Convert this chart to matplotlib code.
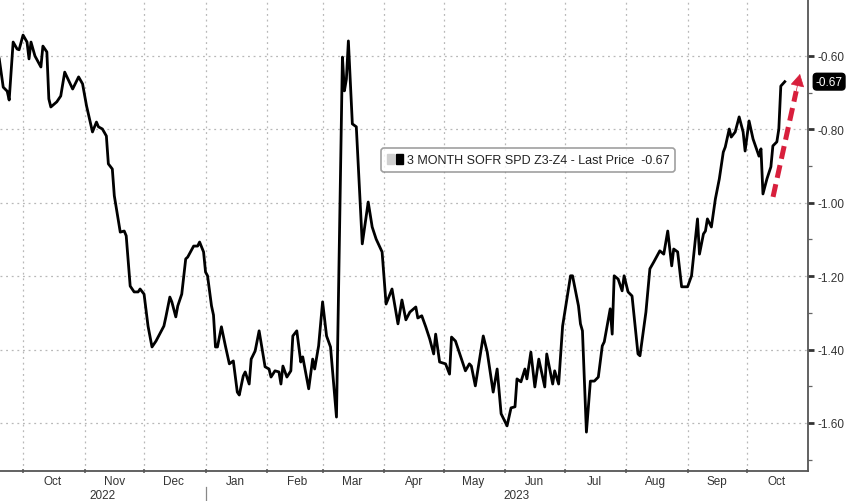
import matplotlib
matplotlib.use("Agg")
import matplotlib.pyplot as plt
import matplotlib.dates as mdates
from matplotlib.patches import Patch
from matplotlib.legend_handler import HandlerTuple
import pandas as pd

plt.rcParams['font.family'] = ['Liberation Sans', 'DejaVu Sans']

# ---------------- data ----------------
dates = [
    # Sep/Oct 2022
    "2022-09-19", "2022-09-21", "2022-09-23", "2022-09-24", "2022-09-26", "2022-09-28", "2022-09-29",
    "2022-10-01", "2022-10-03", "2022-10-04", "2022-10-05", "2022-10-07", "2022-10-10", "2022-10-11",
    "2022-10-13", "2022-10-14", "2022-10-15", "2022-10-18", "2022-10-20", "2022-10-22", "2022-10-26",
    "2022-10-29", "2022-10-31",
    # Nov 2022
    "2022-11-02", "2022-11-05", "2022-11-07", "2022-11-08", "2022-11-10", "2022-11-12", "2022-11-13",
    "2022-11-15", "2022-11-16", "2022-11-19", "2022-11-21", "2022-11-22", "2022-11-24", "2022-11-26",
    "2022-11-28", "2022-11-29",
    # Dec 2022
    "2022-12-01", "2022-12-03", "2022-12-05", "2022-12-07", "2022-12-11", "2022-12-12", "2022-12-14",
    "2022-12-15", "2022-12-17", "2022-12-18", "2022-12-20", "2022-12-22", "2022-12-23", "2022-12-26",
    "2022-12-28", "2022-12-29", "2022-12-31",
    # Jan 2023
    "2023-01-01", "2023-01-02", "2023-01-04", "2023-01-05", "2023-01-06", "2023-01-07", "2023-01-09",
    "2023-01-11", "2023-01-13", "2023-01-15", "2023-01-17", "2023-01-18", "2023-01-20", "2023-01-21",
    "2023-01-23", "2023-01-24", "2023-01-26", "2023-01-28", "2023-01-31",
    # Feb 2023
    "2023-02-02", "2023-02-03", "2023-02-05", "2023-02-07", "2023-02-08", "2023-02-09", "2023-02-11",
    "2023-02-13", "2023-02-14", "2023-02-16", "2023-02-18", "2023-02-19", "2023-02-22", "2023-02-24",
    "2023-02-25", "2023-02-27",
    # Mar 2023
    "2023-03-01", "2023-03-03", "2023-03-05", "2023-03-08", "2023-03-11", "2023-03-12", "2023-03-13",
    "2023-03-14", "2023-03-16", "2023-03-18", "2023-03-21", "2023-03-24", "2023-03-26", "2023-03-28",
    "2023-03-31",
    # Apr 2023
    "2023-04-02", "2023-04-05", "2023-04-08", "2023-04-10", "2023-04-12", "2023-04-14", "2023-04-17",
    "2023-04-18", "2023-04-20", "2023-04-22", "2023-04-24", "2023-04-26", "2023-04-27", "2023-04-29",
    # May 2023
    "2023-05-02", "2023-05-04", "2023-05-05", "2023-05-07", "2023-05-10", "2023-05-12", "2023-05-14",
    "2023-05-15", "2023-05-17", "2023-05-21", "2023-05-23", "2023-05-26", "2023-05-28", "2023-05-30",
    # Jun 2023
    "2023-06-02", "2023-06-04", "2023-06-06", "2023-06-07", "2023-06-09", "2023-06-11", "2023-06-12",
    "2023-06-14", "2023-06-16", "2023-06-18", "2023-06-21", "2023-06-22", "2023-06-25", "2023-06-26",
    "2023-06-28", "2023-06-30",
    # Jul 2023
    "2023-07-04", "2023-07-05", "2023-07-08", "2023-07-09", "2023-07-10", "2023-07-12", "2023-07-14",
    "2023-07-16", "2023-07-18", "2023-07-20", "2023-07-21", "2023-07-24", "2023-07-25", "2023-07-26",
    "2023-07-28", "2023-07-30", "2023-07-31",
    # Aug 2023
    "2023-08-02", "2023-08-04", "2023-08-07", "2023-08-08", "2023-08-11", "2023-08-13", "2023-08-15",
    "2023-08-18", "2023-08-20", "2023-08-22", "2023-08-24", "2023-08-25", "2023-08-27", "2023-08-29",
    # Sep 2023
    "2023-09-01", "2023-09-03", "2023-09-06", "2023-09-07", "2023-09-09", "2023-09-10", "2023-09-11",
    "2023-09-13", "2023-09-15", "2023-09-17", "2023-09-19", "2023-09-20", "2023-09-22", "2023-09-23",
    "2023-09-25", "2023-09-27", "2023-09-29", "2023-09-30",
    # Oct 2023
    "2023-10-02", "2023-10-04", "2023-10-07", "2023-10-08", "2023-10-09", "2023-10-11", "2023-10-13",
    "2023-10-14", "2023-10-16", "2023-10-17", "2023-10-18", "2023-10-20",
]

values = [
    # Sep/Oct 2022
    -0.608, -0.685, -0.696, -0.720, -0.562, -0.581, -0.583,
    -0.543, -0.562, -0.608, -0.562, -0.600, -0.630, -0.573,
    -0.589, -0.717, -0.739, -0.725, -0.709, -0.644, -0.690,
    -0.657, -0.676,
    # Nov 2022
    -0.736, -0.807, -0.780, -0.793, -0.799, -0.818, -0.894,
    -0.908, -0.981, -1.080, -1.077, -1.090, -1.227, -1.243,
    -1.243, -1.235,
    # Dec 2022
    -1.249, -1.336, -1.393, -1.377, -1.336, -1.311, -1.257,
    -1.270, -1.311, -1.281, -1.249, -1.153, -1.148, -1.118,
    -1.118, -1.107, -1.134,
    # Jan 2023
    -1.189, -1.199, -1.281, -1.306, -1.393, -1.393, -1.338,
    -1.390, -1.439, -1.431, -1.516, -1.524, -1.472, -1.461,
    -1.494, -1.426, -1.404, -1.349, -1.447,
    # Feb 2023
    -1.453, -1.475, -1.458, -1.461, -1.494, -1.445, -1.475,
    -1.458, -1.363, -1.349, -1.434, -1.420, -1.507, -1.426,
    -1.453, -1.390,
    # Mar 2023
    -1.270, -1.363, -1.393, -1.584, -0.603, -0.695, -0.663,
    -0.559, -0.785, -0.793, -1.112, -0.998, -1.066, -1.099,
    -1.134,
    # Apr 2023
    -1.276, -1.235, -1.330, -1.265, -1.319, -1.298, -1.284,
    -1.314, -1.308, -1.338, -1.371, -1.412, -1.358, -1.434,
    # May 2023
    -1.439, -1.467, -1.366, -1.377, -1.426, -1.458, -1.439,
    -1.445, -1.499, -1.363, -1.407, -1.516, -1.453, -1.575,
    # Jun 2023
    -1.608, -1.559, -1.556, -1.480, -1.488, -1.453, -1.480,
    -1.407, -1.502, -1.426, -1.502, -1.412, -1.494, -1.458,
    -1.494, -1.336,
    # Jul 2023
    -1.199, -1.199, -1.281, -1.330, -1.349, -1.625, -1.486,
    -1.486, -1.475, -1.390, -1.379, -1.289, -1.358, -1.199,
    -1.208, -1.240, -1.199,
    # Aug 2023
    -1.243, -1.254, -1.412, -1.417, -1.298, -1.180, -1.161,
    -1.131, -1.140, -1.077, -1.172, -1.126, -1.134, -1.229,
    # Sep 2023
    -1.229, -1.199, -1.044, -1.140, -1.085, -1.077, -1.044,
    -1.066, -0.990, -0.935, -0.862, -0.848, -0.799, -0.821,
    -0.807, -0.766, -0.807, -0.859,
    # Oct 2023
    -0.777, -0.826, -0.873, -0.853, -0.976, -0.935, -0.902,
    -0.845, -0.834, -0.799, -0.682, -0.670,
]

series_label = "3 MONTH SOFR SPD Z3-Z4 - Last Price"
last_price = -0.67
y_ticks = [-0.60, -0.80, -1.00, -1.20, -1.40, -1.60]
y_minor = [-0.70, -0.90, -1.10, -1.30, -1.50, -1.70]
month_starts = pd.date_range("2022-10-01", "2023-10-01", freq="MS")
year_labels = ["2022", "2023"]

assert len(dates) == len(values)
x = pd.to_datetime(dates)

# ---------------- figure ----------------
W, H = 848, 502
fig = plt.figure(figsize=(W / 100, H / 100), dpi=100)
ax = fig.add_axes([0.0, 1 - 472 / H, 808 / W, 472 / H])

ax.plot(x, values, color="black", lw=2.0, solid_joinstyle="round", zorder=3)

ax.set_xlim(pd.Timestamp("2022-09-19 09:00"), pd.Timestamp("2023-10-31 17:00"))
ax.set_ylim(-1.731, -0.4447)

# grid
grid_kw = dict(color="#b8b8b8", lw=0.9, ls=(0, (1.5, 3.0)))
for d in month_starts:
    ax.axvline(d, zorder=1, **grid_kw)
for yv in y_ticks:
    ax.axhline(yv, zorder=1, **grid_kw)

# spines
for s in ["left", "top"]:
    ax.spines[s].set_visible(False)
for s in ["right", "bottom"]:
    ax.spines[s].set_color("#555555")
    ax.spines[s].set_linewidth(1.3)

txt_color = "#333333"
fs = 8.5

# x axis: ticks at month starts, labels mid-month
ax.set_xticks(month_starts)
ax.set_xticklabels([])
ax.tick_params(axis="x", which="major", direction="inout", length=3, width=1.2, color="#666666")
mids = [d + pd.Timedelta(days=15) for d in month_starts]
ax.set_xticks(mids, minor=True)
ax.set_xticklabels([d.strftime("%b") for d in month_starts], minor=True, fontsize=fs, color=txt_color)
ax.tick_params(axis="x", which="minor", length=0, pad=3)

# year row
ax.text(102 / 808, -24 / 472, year_labels[0], transform=ax.transAxes, ha="center", va="center",
        fontsize=fs, color=txt_color)
ax.text(517 / 808, -24 / 472, year_labels[1], transform=ax.transAxes, ha="center", va="center",
        fontsize=fs, color=txt_color)
jan = mdates.date2num(pd.Timestamp("2023-01-01"))
ax.plot([jan, jan], [-16 / 472, -32 / 472], transform=ax.get_xaxis_transform(), color="#888888",
        lw=0.9, clip_on=False)

# y axis on right
ax.yaxis.tick_right()
ax.set_yticks(y_ticks)
ax.set_yticklabels([f"{v:.2f}" for v in y_ticks], fontsize=fs, color=txt_color)
ax.set_yticks(y_minor, minor=True)
ax.tick_params(axis="y", which="major", direction="out", length=4, width=2.0, color="#333333", pad=3)
ax.tick_params(axis="y", which="minor", direction="out", length=3, width=0.9, color="#666666")

# last price tag
ax.annotate(f"{last_price:.2f}", xy=(1.0, last_price), xycoords=ax.get_yaxis_transform(),
            xytext=(5.5, 0), textcoords="offset points", ha="left", va="center",
            fontsize=fs, color="white",
            bbox=dict(boxstyle="round,pad=0.2,rounding_size=0.3", fc="black", ec="black"),
            annotation_clip=False, zorder=5)

# legend
gray_sq = Patch(facecolor="#cfcfcf", edgecolor="#cfcfcf")
black_sq = Patch(facecolor="black", edgecolor="black")
leg = ax.legend([(gray_sq, black_sq)], [f"{series_label}  {last_price:.2f}"],
                handler_map={tuple: HandlerTuple(ndivide=None, pad=0.2)},
                loc="center", bbox_to_anchor=(528 / 808, (472 - 161) / 472),
                fontsize=9, frameon=True, fancybox=True, handlelength=1.3, handleheight=0.8,
                handletextpad=0.3, borderpad=0.45, labelcolor="#222222")
leg.get_frame().set_edgecolor("#888888")
leg.get_frame().set_linewidth(1.2)

# red dashed arrow
red = "#d81f3c"
start = (mdates.date2num(pd.Timestamp("2023-10-14 02:00")), -0.984)
tip = (mdates.date2num(pd.Timestamp("2023-10-27 16:00")), -0.649)
mid = (start[0] + (tip[0] - start[0]) * 0.86, start[1] + (tip[1] - start[1]) * 0.86)
ax.plot([start[0], mid[0]], [start[1], mid[1]], color=red, lw=3.6, ls=(0, (2.6, 1.3)),
        solid_capstyle="butt", dash_capstyle="butt", zorder=4)
ax.annotate("", xy=tip, xytext=mid,
            arrowprops=dict(arrowstyle="-|>,head_width=0.45,head_length=0.8", color=red, lw=0.5,
                            shrinkA=0, shrinkB=0), zorder=4)

fig.savefig("out.png", dpi=100)
